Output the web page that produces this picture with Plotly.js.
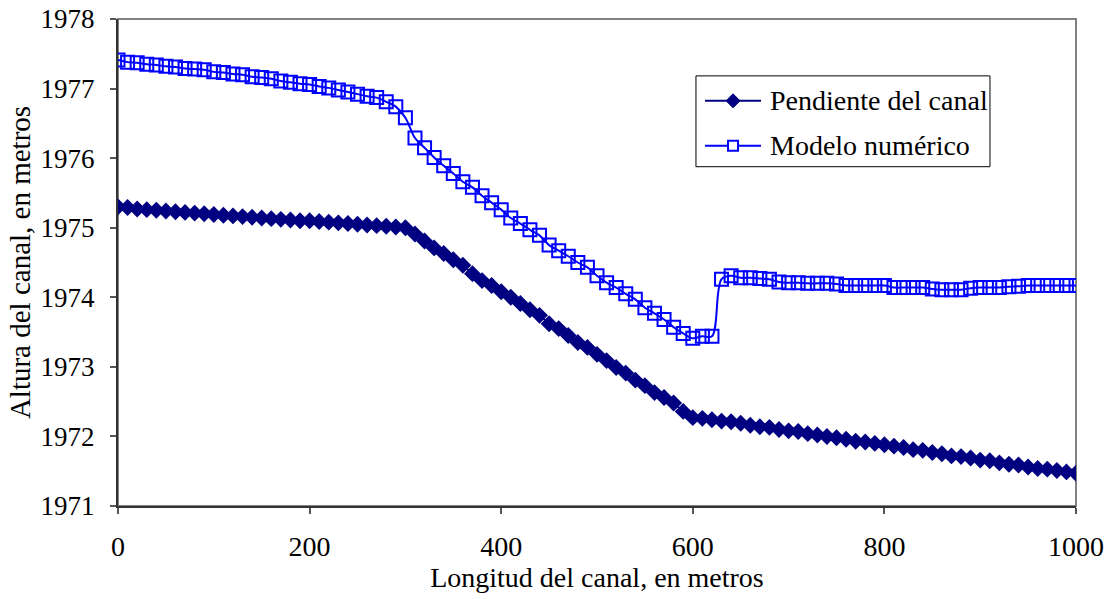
<!DOCTYPE html>
<html>
<head>
<meta charset="utf-8">
<script src="https://cdn.plot.ly/plotly-3.0.1.min.js"></script>
<style>html,body{margin:0;padding:0;background:#fff;}#chart{width:1112px;height:599px;}</style>
</head>
<body>
<div id="chart"></div>
<script>
// Longitud del canal (m)
const longitud = [0,10,20,30,40,50,60,70,80,90,100,110,120,130,140,150,160,170,180,190,200,210,220,230,240,250,260,270,280,290,300,310,320,330,340,350,360,370,380,390,400,410,420,430,440,450,460,470,480,490,500,510,520,530,540,550,560,570,580,590,600,610,620,630,640,650,660,670,680,690,700,710,720,730,740,750,760,770,780,790,800,810,820,830,840,850,860,870,880,890,900,910,920,930,940,950,960,970,980,990,1000];

// Pendiente del canal (m)
const pendiente = [1975.30,1975.29,1975.27,1975.26,1975.25,1975.24,1975.23,1975.22,1975.21,1975.20,
  1975.19,1975.18,1975.17,1975.16,1975.15,1975.14,1975.13,1975.12,1975.11,1975.10,
  1975.10,1975.09,1975.08,1975.07,1975.06,1975.05,1975.04,1975.03,1975.02,1975.01,
  1975.00,1974.91,1974.81,1974.71,1974.63,1974.54,1974.46,1974.34,1974.24,1974.17,
  1974.08,1974.00,1973.91,1973.82,1973.74,1973.62,1973.55,1973.45,1973.35,1973.28,
  1973.18,1973.09,1972.99,1972.91,1972.81,1972.73,1972.63,1972.56,1972.48,1972.36,
  1972.27,1972.26,1972.24,1972.22,1972.21,1972.19,1972.16,1972.14,1972.13,1972.10,
  1972.08,1972.07,1972.04,1972.02,1972.00,1971.98,1971.96,1971.93,1971.92,1971.90,
  1971.88,1971.86,1971.84,1971.81,1971.80,1971.77,1971.75,1971.72,1971.71,1971.69,
  1971.66,1971.65,1971.62,1971.60,1971.59,1971.56,1971.54,1971.53,1971.51,1971.49,
  1971.47];

// Modelo numérico (m)
const modelo = [1977.41,1977.38,1977.37,1977.35,1977.34,1977.32,1977.31,1977.29,1977.28,1977.27,
  1977.24,1977.23,1977.21,1977.20,1977.17,1977.16,1977.14,1977.11,1977.09,1977.07,
  1977.06,1977.03,1977.01,1976.98,1976.95,1976.92,1976.89,1976.87,1976.81,1976.74,
  1976.58,1976.29,1976.15,1976.01,1975.89,1975.78,1975.66,1975.58,1975.46,1975.36,
  1975.26,1975.14,1975.06,1974.97,1974.89,1974.75,1974.67,1974.59,1974.50,1974.43,
  1974.31,1974.21,1974.14,1974.05,1973.97,1973.85,1973.77,1973.68,1973.57,1973.48,
  1973.41,1973.44,1973.44,1974.26,1974.31,1974.28,1974.28,1974.27,1974.26,1974.22,
  1974.21,1974.21,1974.20,1974.20,1974.20,1974.19,1974.17,1974.17,1974.17,1974.17,
  1974.17,1974.14,1974.14,1974.14,1974.14,1974.12,1974.11,1974.11,1974.11,1974.13,
  1974.14,1974.14,1974.14,1974.15,1974.16,1974.17,1974.17,1974.17,1974.17,1974.17,
  1974.17];

const seriesNames = ['Pendiente del canal', 'Modelo numérico'];
const xTicks = [0,200,400,600,800,1000];
const yTicks = [1971,1972,1973,1974,1975,1976,1977,1978];

const FONT = '"Liberation Serif", "Times New Roman", serif';
const NAVY = '#000080', BLUE = '#0000FF';

const traces = [
  {
    x: longitud, y: pendiente, name: seriesNames[0],
    type: 'scatter', mode: 'lines+markers',
    line: {color: NAVY, width: 2},
    marker: {symbol: 'diamond', size: 13, color: NAVY}
  },
  {
    x: longitud, y: modelo, name: seriesNames[1],
    type: 'scatter', mode: 'lines+markers',
    line: {color: BLUE, width: 2, shape: 'spline', smoothing: 1},
    marker: {symbol: 'square-open', size: 13, color: BLUE, line: {color: BLUE, width: 2}}
  }
];

// custom legend (Excel style: long line sample, marker in middle)
const LG = {x0: 0.6033, x1: 0.9102, y0: 0.6967, y1: 0.8832, lineX0: 0.6127, lineX1: 0.6712, mx: 0.6420, tx: 0.6785, rows: [0.832, 0.7398]};
const shapes = [
  {type: 'rect', xref: 'paper', yref: 'paper', x0: 0, x1: 1, y0: 0, y1: 1,
   line: {color: '#808080', width: 2}, layer: 'below'},
  {type: 'rect', xref: 'paper', yref: 'paper', x0: LG.x0, x1: LG.x1, y0: LG.y0, y1: LG.y1,
   line: {color: '#000', width: 1}, fillcolor: '#fff', layer: 'above'},
  {type: 'line', xref: 'paper', yref: 'paper', x0: LG.lineX0, x1: LG.lineX1, y0: LG.rows[0], y1: LG.rows[0],
   line: {color: NAVY, width: 2}, layer: 'above'},
  {type: 'path', xref: 'paper', yref: 'paper', xsizemode: 'pixel', ysizemode: 'pixel',
   xanchor: LG.mx, yanchor: LG.rows[0], path: 'M0,7L7,0L0,-7L-7,0Z',
   fillcolor: NAVY, line: {color: NAVY, width: 1}, layer: 'above'},
  {type: 'line', xref: 'paper', yref: 'paper', x0: LG.lineX0, x1: LG.lineX1, y0: LG.rows[1], y1: LG.rows[1],
   line: {color: BLUE, width: 2}, layer: 'above'},
  {type: 'path', xref: 'paper', yref: 'paper', xsizemode: 'pixel', ysizemode: 'pixel',
   xanchor: LG.mx, yanchor: LG.rows[1], path: 'M-5,-5L5,-5L5,5L-5,5Z',
   fillcolor: '#fff', line: {color: BLUE, width: 2}, layer: 'above'}
];
const annotations = seriesNames.map((n, i) => ({
  text: n, xref: 'paper', yref: 'paper', x: LG.tx, y: LG.rows[i],
  xanchor: 'left', yanchor: 'middle', showarrow: false,
  font: {family: FONT, size: 28, color: '#000'}
}));

const layout = {
  width: 1112, height: 599,
  margin: {l: 118, r: 36, t: 19, b: 93},
  paper_bgcolor: '#fff', plot_bgcolor: '#fff',
  font: {family: FONT, size: 28, color: '#000'},
  showlegend: false,
  xaxis: {
    range: [0, 1000], tickvals: xTicks, ticktext: xTicks.map(String),
    showgrid: false, zeroline: false,
    showline: true, linecolor: '#333', linewidth: 2,
    ticks: 'outside', ticklen: 6, tickcolor: '#555', tickwidth: 2,
    ticklabelstandoff: 8,
    tickfont: {family: FONT, size: 28, color: '#000'},
    title: {text: 'Longitud del canal, en metros', font: {family: FONT, size: 28, color: '#000'}, standoff: 0}
  },
  yaxis: {
    range: [1971, 1978], tickvals: yTicks, ticktext: yTicks.map(String),
    showgrid: false, zeroline: false,
    showline: true, linecolor: '#333', linewidth: 2,
    ticks: 'outside', ticklen: 6, tickcolor: '#555', tickwidth: 2,
    ticklabelstandoff: 10,
    tickfont: {family: FONT, size: 27, color: '#000'},
    title: {text: 'Altura del canal, en metros', font: {family: FONT, size: 29, color: '#000'}, standoff: 1}
  },
  shapes: shapes,
  annotations: annotations,
  hovermode: false
};

Plotly.newPlot('chart', traces, layout, {displayModeBar: false, staticPlot: true});
</script>
</body>
</html>
